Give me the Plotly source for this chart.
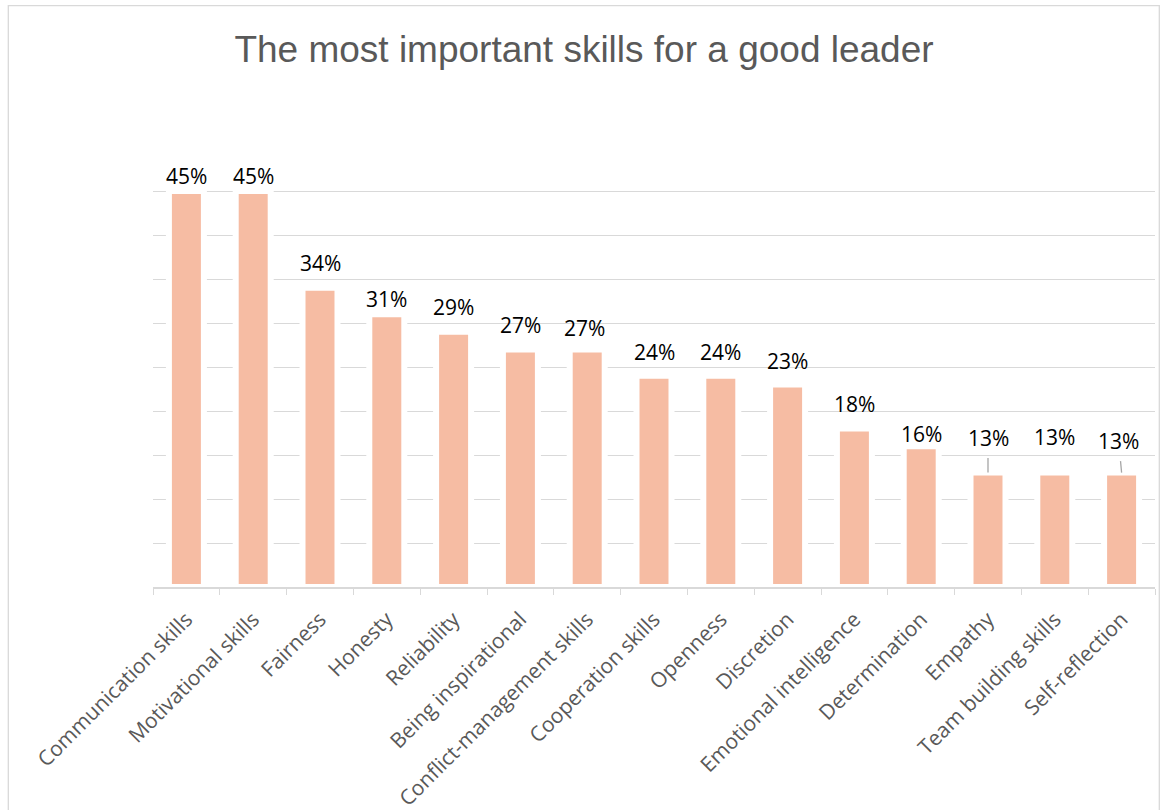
import plotly.graph_objects as go

# Survey results: share of respondents naming each skill
skills = [
    "Communication skills", "Motivational skills", "Fairness", "Honesty",
    "Reliability", "Being inspirational", "Conflict-management skills",
    "Cooperation skills", "Openness", "Discretion", "Emotional intelligence",
    "Determination", "Empathy", "Team building skills", "Self-reflection",
]
share_pct = [45, 45, 34, 31, 29, 27, 27, 24, 24, 23, 18, 16, 13, 13, 13]

# Label placement (pixels above the bar end, horizontal nudge, leader line flag)
label_lift = [15, 15, 25, 15, 25, 24, 21, 24, 24, 24, 25, 12, 35, 36, 32]
label_nudge = [0, 0, 0, 0, 0, 0, -3, 0, 0, 0, 0, 0, 0, 0, -3]
label_leader = [False] * 12 + [True, False, True]

BAR = "#F6BCA3"
GRID = "#D9D9D9"
TEXT = "#595959"

fig = go.Figure(
    go.Bar(
        x=skills,
        y=[v / 100 for v in share_pct],
        marker=dict(color=BAR, line=dict(color="white", width=6)),
        hoverinfo="skip",
    )
)

annotations = []
for name, v, lift, dx, leader in zip(skills, share_pct, label_lift, label_nudge, label_leader):
    common = dict(
        x=name, y=v / 100, xref="x", yref="y", text=f"{v}%",
        font=dict(family="Open Sans", size=21, color="#000000"),
    )
    if leader:
        annotations.append(dict(
            **common, showarrow=True, ax=dx, ay=-lift, arrowhead=0,
            arrowwidth=1.3, arrowcolor="#A6A6A6", standoff=0, startstandoff=5,
        ))
    else:
        annotations.append(dict(
            **common, showarrow=False, yanchor="middle", yshift=lift, xshift=dx,
        ))

fig.update_layout(
    width=1162, height=810,
    margin=dict(l=153, r=7, t=147, b=223, autoexpand=False),
    paper_bgcolor="white", plot_bgcolor="white",
    bargap=0.476,
    showlegend=False,
    title=dict(
        text="The most important skills for a good leader",
        font=dict(family="Liberation Sans, Arial", size=37, color=TEXT),
        x=584 / 1162, xref="container", xanchor="center",
        y=1 - 49 / 810, yref="container", yanchor="middle",
    ),
    xaxis=dict(
        type="category",
        automargin=False,
        tickangle=-45,
        tickfont=dict(family="Open Sans", size=21, color=TEXT),
        ticklabelstandoff=10,
        showline=True, linecolor=GRID, linewidth=1.5,
        ticks="outside", tickson="boundaries", ticklen=6,
        tickcolor=GRID, tickwidth=1.3,
        showgrid=False,
    ),
    yaxis=dict(
        automargin=False,
        range=[0, 0.5], dtick=0.05,
        showgrid=True, gridcolor=GRID, gridwidth=1.3,
        showticklabels=False, zeroline=False, showline=False,
    ),
    annotations=annotations,
    shapes=[dict(
        type="rect", xref="paper", yref="paper",
        x0=-0.1444, x1=1.0043, y0=-0.7, y1=1.3211,
        line=dict(color=GRID, width=1.3), fillcolor="rgba(0,0,0,0)", layer="below",
    )],
)

fig.write_html("out.html")
